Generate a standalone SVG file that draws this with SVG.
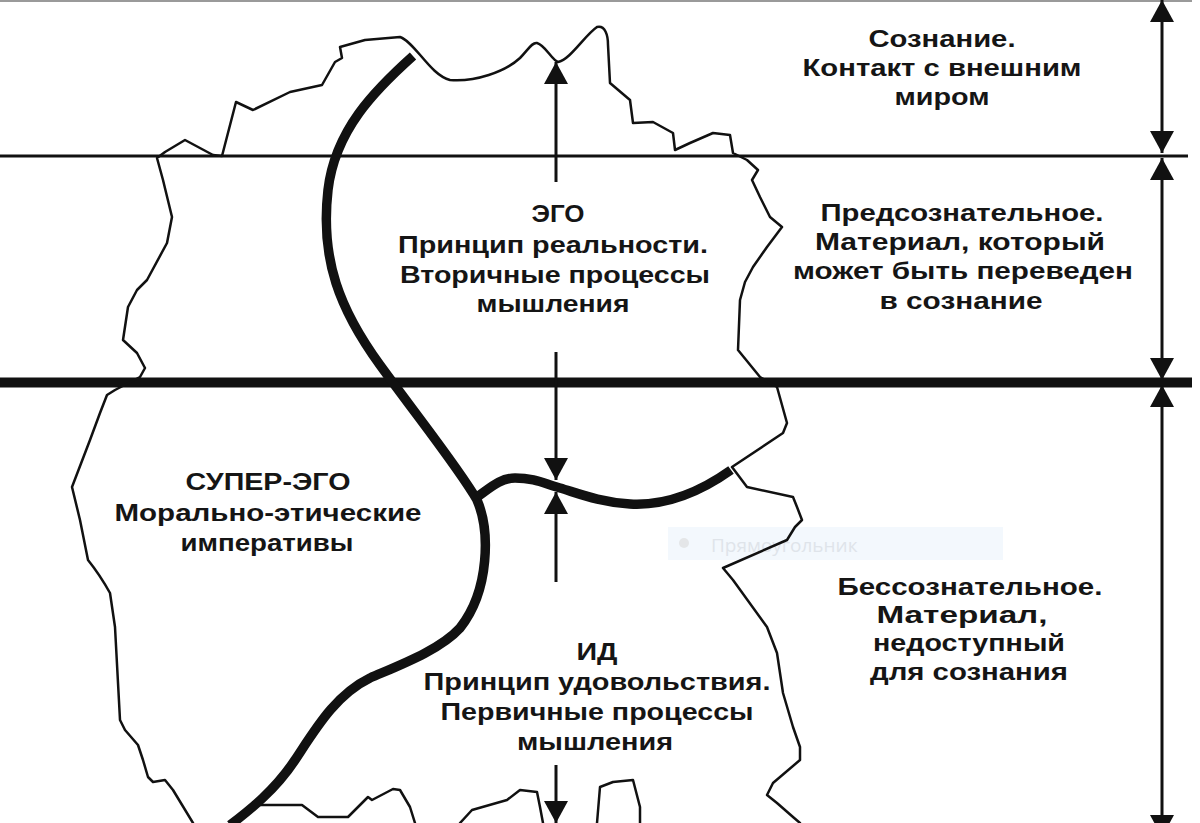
<svg xmlns="http://www.w3.org/2000/svg" width="1200" height="823" viewBox="0 0 1200 823">
<style>
.t{font-family:"Liberation Sans",Arial,sans-serif;font-weight:bold;font-size:24px;fill:#151515;text-anchor:middle}
.thin{fill:none;stroke:#111;stroke-width:2.5;stroke-linejoin:round;stroke-linecap:round}
.thick{fill:none;stroke:#111;stroke-width:9.5;stroke-linecap:butt;stroke-linejoin:round}
.ar{fill:none;stroke:#111;stroke-width:3}
.lbl{font-family:"Open Sans","Noto Sans",sans-serif;font-size:19px;fill:#dfe4ea}
</style>
<defs>
<marker id="ah" viewBox="0 0 22 24" refX="22" refY="12" markerWidth="22" markerHeight="24" markerUnits="userSpaceOnUse" orient="auto-start-reverse">
<path d="M0,0 L22,12 L0,24 Z" fill="#111"/>
</marker>
</defs>
<rect width="1200" height="823" fill="#fff"/>

<g id="levels">
<line x1="0" y1="1" x2="1192" y2="1" stroke="#9a9a9a" stroke-width="2"/>
<line x1="0" y1="156" x2="1188" y2="156" stroke="#111" stroke-width="3"/>
<line x1="0" y1="382.5" x2="1192" y2="382.5" stroke="#111" stroke-width="10"/>
</g>

<g id="faint-label">
<rect x="668" y="527" width="335" height="33" fill="#f3f8fd"/>
<circle cx="684" cy="543" r="5" fill="#e4e6e8"/>
<text class="lbl" x="711" y="552">Прямоугольник</text>
</g>

<g id="psyche-outline">
<path class="thin" d="M193,823 L173,790 L165,780 L153,782 L148,777 L143,760 L138,745 L125,730 L120,720 L115,627 L110,593 C100,575 92,565 88,560 L80,520 L72,487 L90,440 L100,413 L107,395 L115,390 L140,377 L145,368 L137,353 L123,340 L128,307 L137,290 L147,280 L167,243 L172,217 L163,180 L157,158 L165,152 L185,140 L213,155 L222,156 L236,102 L253,110 L290,92 L322,85 L335,62 L342,58 L340,47 L365,40 L400,37 C415,42 430,75 450,80 C475,82 505,72 520,58 C528,50 532,42 537,43 C545,45 552,60 558,62 C570,60 585,35 597,27 C605,25 608,35 608,45 L610,83 L630,100 L633,123 L653,122 L673,133 L675,150 L690,143 L713,133 L730,135 L733,153 L747,160 L758,170 L752,180 L760,197 L770,217 L782,227 L767,247 L753,267 L745,282 L740,300 L738,350 L760,377 L777,387 L787,423 L783,433 L732,467 L747,487 L793,497 L797,507 L802,520 L795,527 L787,540 L723,568 L733,580 L767,627 L777,653 L783,693 L793,727 L800,747 L800,760 L773,783 L767,795 L777,803 L793,817 L800,823"/>
<path class="thin" d="M255,805 L302,805 L318,817 L348,817 L368,797 L372,800 L393,789 L400,790 L410,807 L415,823"/>
<path class="thin" d="M460,823 L472,810 L507,800 L520,790 L537,792 L540,807 L543,823"/>
<path class="thin" d="M597,823 L600,787 L613,782 L633,780 L640,807 L640,823"/>
</g>

<g id="boundaries">
<path class="thick" d="M413,56 C375,90 335,130 328,190 C320,260 340,310 380,365 C420,420 460,470 477,500 C490,530 490,590 460,628 C440,650 400,665 370,678 C335,695 315,730 295,760 C275,790 250,810 230,825"/>
<path class="thick" d="M477,497 C490,488 500,478 515,478 C535,478 545,484 560,488 C580,494 600,502 630,504 C665,506 700,492 731,470"/>
</g>

<g id="connectors">
<line class="ar" x1="556" y1="182" x2="556" y2="62" marker-end="url(#ah)"/>
<line class="ar" x1="556" y1="352" x2="556" y2="480" marker-end="url(#ah)"/>
<line class="ar" x1="556" y1="582" x2="556" y2="492" marker-end="url(#ah)"/>
<line class="ar" x1="556" y1="765" x2="556" y2="823" marker-end="url(#ah)"/>
<line class="ar" x1="1162" y1="0" x2="1162" y2="153" marker-start="url(#ah)" marker-end="url(#ah)"/>
<line class="ar" x1="1162" y1="158" x2="1162" y2="380" marker-start="url(#ah)" marker-end="url(#ah)"/>
<line class="ar" x1="1162" y1="385" x2="1162" y2="837" marker-start="url(#ah)" marker-end="url(#ah)"/>
</g>

<g id="ego">
<text class="t" x="558" y="222" textLength="53" lengthAdjust="spacingAndGlyphs">ЭГО</text>
<text class="t" x="553" y="253" textLength="310" lengthAdjust="spacingAndGlyphs">Принцип реальности.</text>
<text class="t" x="555" y="283" textLength="310" lengthAdjust="spacingAndGlyphs">Вторичные процессы</text>
<text class="t" x="553" y="312" textLength="153" lengthAdjust="spacingAndGlyphs">мышления</text>
</g>

<g id="superego">
<text class="t" x="268" y="490" textLength="165" lengthAdjust="spacingAndGlyphs">СУПЕР-ЭГО</text>
<text class="t" x="268" y="521" textLength="307" lengthAdjust="spacingAndGlyphs">Морально-этические</text>
<text class="t" x="267" y="551" textLength="173" lengthAdjust="spacingAndGlyphs">императивы</text>
</g>

<g id="id">
<text class="t" x="597" y="660" textLength="41" lengthAdjust="spacingAndGlyphs">ИД</text>
<text class="t" x="597" y="690" textLength="347" lengthAdjust="spacingAndGlyphs">Принцип удовольствия.</text>
<text class="t" x="597" y="720" textLength="313" lengthAdjust="spacingAndGlyphs">Первичные процессы</text>
<text class="t" x="595" y="750" textLength="156" lengthAdjust="spacingAndGlyphs">мышления</text>
</g>

<g id="conscious">
<text class="t" x="942" y="47" textLength="147" lengthAdjust="spacingAndGlyphs">Сознание.</text>
<text class="t" x="942" y="76" textLength="279" lengthAdjust="spacingAndGlyphs">Контакт с внешним</text>
<text class="t" x="942" y="105" textLength="95" lengthAdjust="spacingAndGlyphs">миром</text>
</g>

<g id="preconscious">
<text class="t" x="962" y="221" textLength="283" lengthAdjust="spacingAndGlyphs">Предсознательное.</text>
<text class="t" x="960" y="250" textLength="290" lengthAdjust="spacingAndGlyphs">Материал, который</text>
<text class="t" x="963" y="279" textLength="340" lengthAdjust="spacingAndGlyphs">может быть переведен</text>
<text class="t" x="961" y="309" textLength="163" lengthAdjust="spacingAndGlyphs">в сознание</text>
</g>

<g id="unconscious">
<text class="t" x="970" y="595" textLength="265" lengthAdjust="spacingAndGlyphs">Бессознательное.</text>
<text class="t" x="962" y="623" textLength="171" lengthAdjust="spacingAndGlyphs">Материал,</text>
<text class="t" x="969" y="651" textLength="192" lengthAdjust="spacingAndGlyphs">недоступный</text>
<text class="t" x="969" y="680" textLength="198" lengthAdjust="spacingAndGlyphs">для сознания</text>
</g>
</svg>
